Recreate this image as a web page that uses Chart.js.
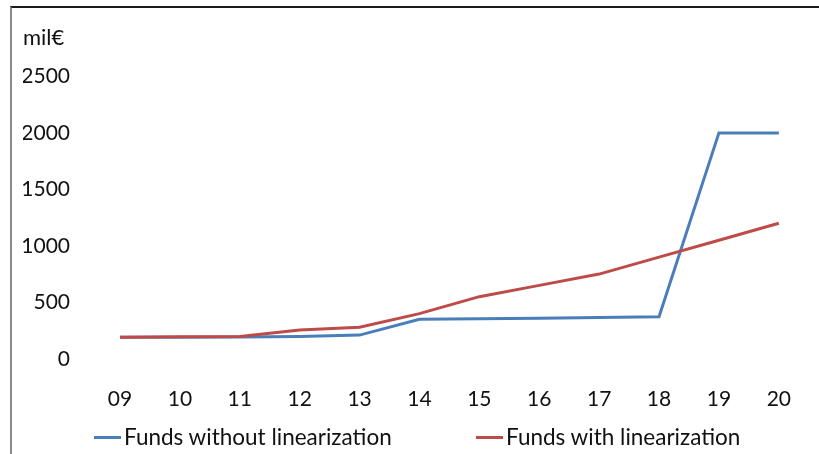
<!DOCTYPE html>
<html>
<head>
<meta charset="utf-8">
<script src="https://cdn.jsdelivr.net/npm/chart.js@4/dist/chart.umd.min.js"></script>
<style>
body{margin:0;background:#fff;}
#wrap{position:relative;width:819px;height:454px;overflow:hidden;background:#fff;}
#frame{position:absolute;left:10px;top:6px;width:900px;height:600px;border-left:2px solid #8a8a8a;border-top:2px solid #1a1a1a;pointer-events:none;}
#myChart{position:absolute;left:0;top:0;}
#legend{position:absolute;left:0;top:424px;width:819px;height:26px;font-family:Lato,sans-serif;font-size:22.5px;color:#111;}
.item{position:absolute;top:0;height:26px;line-height:26px;white-space:nowrap;}
.item span.ln{position:absolute;left:0;top:12px;width:27px;height:3px;}
.item span.tx{position:absolute;left:30px;top:0;}
</style>
</head>
<body>
<div id="wrap">
  <canvas id="myChart" width="819" height="454"></canvas>
  <div id="frame"></div>
  <div id="legend"></div>
</div>
<script>
const years=['09','10','11','12','13','14','15','16','17','18','19','20'];
const fundsWithout=[190,190,192,198,210,350,355,360,365,372,2000,2000];
const fundsWith=[190,195,198,255,280,400,550,650,750,900,1050,1200];
const yMax=2500;
const yStep=500;
const seriesNames=['Funds without linearization','Funds with linearization'];
const seriesColors=['#4a7ebb','#be4b48'];

Chart.defaults.font.family="Lato";
Chart.defaults.font.size=21;
Chart.defaults.color="#111";

var ctx=document.getElementById('myChart').getContext('2d');
const myChart=new Chart(ctx,{
  type:'line',
  data:{
    labels:years,
    datasets:[{
      label:seriesNames[0],
      data:fundsWithout,
      borderColor:seriesColors[0],
      backgroundColor:seriesColors[0],
      borderWidth:3,
      pointRadius:0,
      tension:0,
      order:1
    },{
      label:seriesNames[1],
      data:fundsWith,
      borderColor:seriesColors[1],
      backgroundColor:seriesColors[1],
      borderWidth:3,
      pointRadius:0,
      tension:0,
      order:0   // red is drawn over the blue one
    }]
  },
  options:{
    responsive:false,
    animation:false,
    layout:{padding:{left:23,right:33,top:15,bottom:14}},
    plugins:{
      legend:{display:false},
      tooltip:{enabled:false},
      title:{
        display:true,
        text:'mil€',
        align:'start',
        color:'#111',
        font:{size:22,weight:'normal'},
        padding:{top:10,bottom:25}
      }
    },
    scales:{
      x:{
        offset:false,
        grid:{display:false,drawTicks:false},
        border:{display:false},
        ticks:{padding:28,maxRotation:0,autoSkip:false}
      },
      y:{
        min:0,
        max:yMax,
        grid:{display:false,drawTicks:false},
        border:{display:false},
        ticks:{stepSize:yStep,padding:50,callback:function(v){return String(v);}},
        afterFit:function(scale){scale.width=97;}
      }
    }
  }
});

// legend as html, colours and names from the datasets
const legendPos=[94,476];
const legend=document.getElementById('legend');
myChart.data.datasets.forEach(function(ds,i){
  const it=document.createElement('div');
  it.className='item';
  it.style.left=legendPos[i]+'px';
  it.innerHTML='<span class="ln" style="background:'+ds.borderColor+'"></span><span class="tx">'+ds.label+'</span>';
  legend.appendChild(it);
});
</script>
</body>
</html>
